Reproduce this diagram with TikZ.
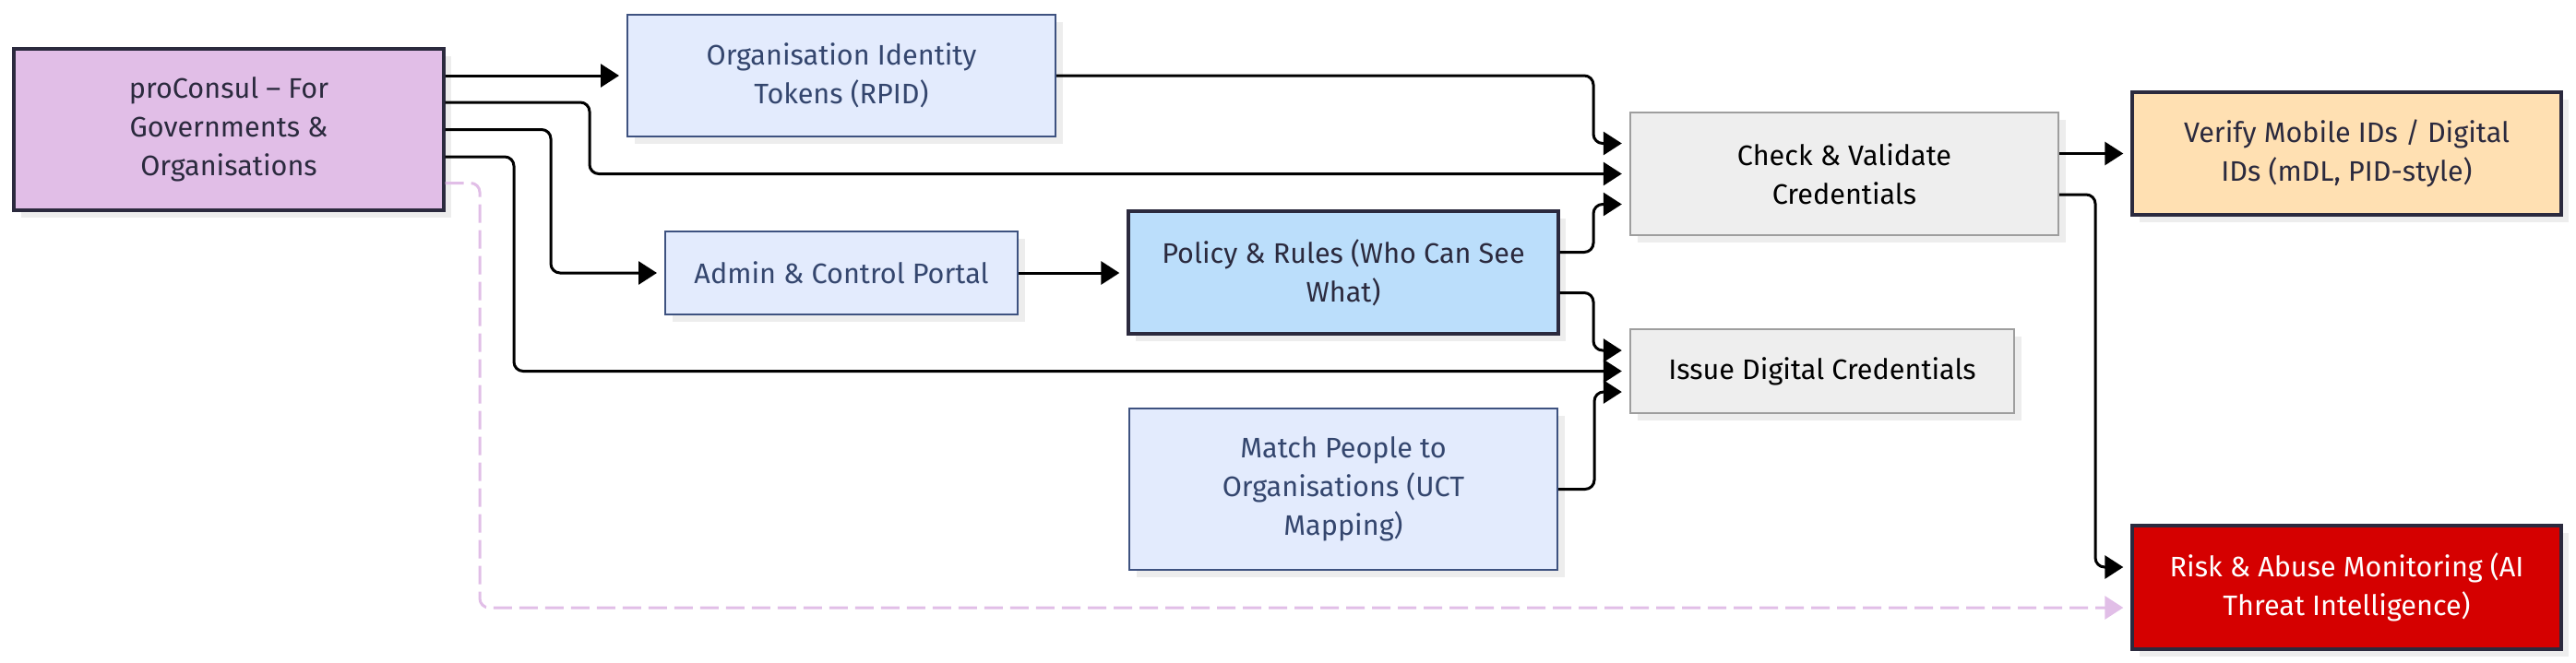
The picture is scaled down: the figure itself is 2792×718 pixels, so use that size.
\documentclass[tikz,border=0pt]{standalone}
\usepackage{fontspec}
\setmainfont{Fira Sans}
\usetikzlibrary{calc,shadows,arrows.meta}
\definecolor{ink}{HTML}{2B2A3E}
\definecolor{navy}{HTML}{3E5280}
\definecolor{navytext}{HTML}{34466E}
\definecolor{paleblue}{HTML}{E3EBFD}
\definecolor{lilac}{HTML}{E1BEE7}
\definecolor{skyblue}{HTML}{BBDEFB}
\definecolor{peach}{HTML}{FFE0B2}
\definecolor{alarm}{HTML}{D50000}
\definecolor{greyfill}{HTML}{EEEEEE}
\definecolor{greyline}{HTML}{9E9E9E}

\begin{document}
\begin{tikzpicture}[x=0.5pt,y=-0.5pt,
    box/.style={rectangle,align=center,inner sep=0pt,
      font=\fontsize{15.3}{21}\selectfont,
      drop shadow={shadow xshift=4pt,shadow yshift=-4pt,fill=black!7,opacity=1}},
    darkbox/.style={box,draw=ink,line width=1.7pt,text=ink},
    bluebox/.style={box,draw=navy,fill=paleblue,line width=1pt,text=navytext},
    greybox/.style={box,draw=greyline,fill=greyfill,line width=1.2pt,text=black},
    flow/.style={line width=1.5pt,rounded corners=5pt,shorten >=4pt,
      -{Triangle[length=10pt,width=12.5pt]}},
    dashflow/.style={flow,lilac,dash pattern=on 10pt off 4pt}]
    \useasboundingbox (0,0) rectangle (2792,718);

    % sources
    \node[darkbox,fill=lilac,minimum width=233pt,minimum height=87.5pt] (pc) at (248,140.5)
        {proConsul -- For\\Governments \&\\Organisations};
    \node[bluebox,minimum width=232pt,minimum height=66pt] (oit) at (912,82)
        {Organisation Identity\\Tokens (RPID)};
    \node[bluebox,minimum width=191pt,minimum height=45pt] (admin) at (912,296)
        {Admin \& Control Portal};
    \node[darkbox,fill=skyblue,minimum width=233pt,minimum height=66.5pt] (policy) at (1456,295.5)
        {Policy \& Rules (Who Can See\\What)};
    \node[bluebox,minimum width=232pt,minimum height=87.5pt] (match) at (1456,530.5)
        {Match People to\\Organisations (UCT\\Mapping)};

    % credential services
    \node[greybox,minimum width=232pt,minimum height=66.5pt] (check) at (1999,188.5)
        {Check \& Validate\\Credentials};
    \node[greybox,minimum width=208pt,minimum height=45.5pt] (issue) at (1975,402.5)
        {Issue Digital Credentials};
    \node[darkbox,fill=peach,minimum width=232.5pt,minimum height=66.5pt] (verify) at (2543.5,166.5)
        {Verify Mobile IDs / Digital\\IDs (mDL, PID-style)};
    \node[darkbox,fill=alarm,text=white,minimum width=232.5pt,minimum height=67pt] (risk) at (2543.5,637)
        {Risk \& Abuse Monitoring (AI\\Threat Intelligence)};

    % connectors
    \draw[flow] (pc.east |- oit.west) -- (oit.west);
    \draw[flow] ($(pc.east)+(0,-29.5)$) -| (639,188.5) -- (check.west);
    \draw[flow] (pc.east) -| (597,296) -- (admin.west);
    \draw[flow] ($(pc.east)+(0,29.5)$) -| (557,402.5) -- (issue.west);
    \draw[dashflow] ($(pc.east)+(0,58)$) -| (520,659) -- ($(risk.west)+(0,22)$);
    \draw[flow] (oit.east) -| (1727,155.5) -- ($(check.west)+(0,-33)$);
    \draw[flow] (admin.east) -- (admin.east -| policy.west);
    \draw[flow] ($(policy.east)+(0,-22)$) -| (1727,221.5) -- ($(check.west)+(0,33)$);
    \draw[flow] ($(policy.east)+(0,22)$) -| (1727,380) -- ($(issue.west)+(0,-22.5)$);
    \draw[flow] (match.east) -| (1728,425) -- ($(issue.west)+(0,22.5)$);
    \draw[flow] (check.east |- verify.west) -- (verify.west);
    \draw[flow] ($(check.east)+(0,22.5)$) -| (2271,615) -- ($(risk.west)+(0,-22)$);
\end{tikzpicture}
\end{document}
